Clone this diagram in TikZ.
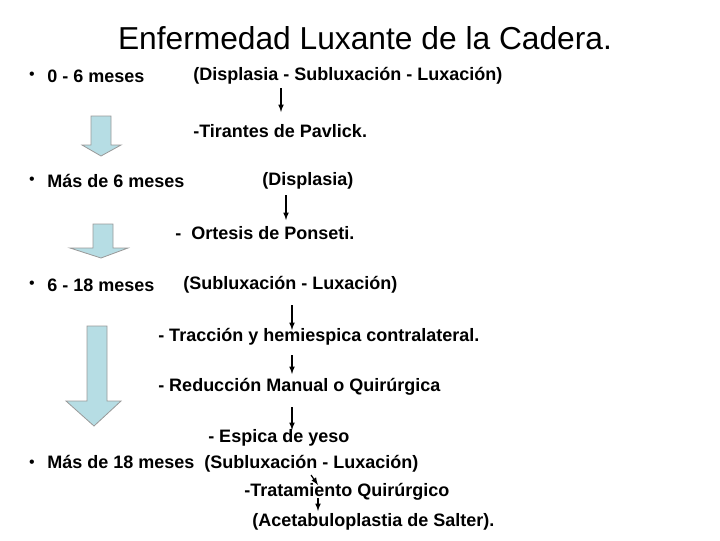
\documentclass[tikz,border=0pt]{standalone}
\usepackage{fontspec}
\setmainfont{Liberation Sans}
\definecolor{arrfill}{RGB}{182,221,228}
\begin{document}
\begin{tikzpicture}[x=0.75pt,y=-0.75pt,
  txt/.style={anchor=west,inner sep=0pt,font=\bfseries\fontsize{13.5}{15}\selectfont},
  bul/.style={inner sep=0pt,font=\fontsize{12}{14}\selectfont},
  thin/.style={-latex,line width=0.9pt},
  big/.style={draw=gray!80,fill=arrfill,line width=0.6pt}]
\useasboundingbox (0,0) rectangle (720,540);
\node[inner sep=0pt,font=\fontsize{23.8}{27}\selectfont] (title) at (365,38) {Enfermedad Luxante de la Cadera.};
\foreach \y in {76,181,285,464} \node[bul] at (32,\y) {•};
\node[txt] (a1) at (47,76) {0 - 6 meses};
\node[txt] (a2) at (193,76) {(Displasia - Subluxación - Luxación)};
\node[txt] (a3) at (193,131) {-Tirantes de Pavlick.};
\node[txt] (b1) at (47,181) {Más de 6 meses};
\node[txt] (b2) at (262,181) {(Displasia)};
\node[txt] (b3) at (175,233) {-\ \ Ortesis de Ponseti.};
\node[txt] (c1) at (47,285) {6 - 18 meses};
\node[txt] (c2) at (183,285) {(Subluxación - Luxación)};
\node[txt] (c3) at (158,337) {- Tracción y hemiespica contralateral.};
\node[txt] (c4) at (158,387) {- Reducción Manual o Quirúrgica};
\node[txt] (c5) at (208,438) {- Espica de yeso};
\node[txt] (d1) at (47,464) {Más de 18 meses\ \ (Subluxación - Luxación)};
\node[txt] (d2) at (244,492) {-Tratamiento Quirúrgico};
\node[txt] (d3) at (252,522) {(Acetabuloplastia de Salter).};
\coordinate (p1) at (281,88); \coordinate (q1) at (281,112);
\coordinate (p2) at (286,195); \coordinate (q2) at (286,220);
\coordinate (p3) at (292,305); \coordinate (q3) at (292,330);
\coordinate (p4) at (292,355); \coordinate (q4) at (292,374);
\coordinate (p5) at (292,407); \coordinate (q5) at (292,430);
\coordinate (p6) at (311,475); \coordinate (q6) at (318,485);
\coordinate (p7) at (318,498); \coordinate (q7) at (318,511);
\foreach \i in {1,...,7} \draw[thin] (p\i) -- (q\i);
\draw[big] (91,116) -- (111,116) -- (111,145) -- (121,145) -- (101,156) -- (82,145) -- (91,145) -- cycle;
\draw[big] (93,224) -- (113,224) -- (113,248) -- (128,248) -- (101,258) -- (70,248) -- (93,248) -- cycle;
\draw[big] (87,326) -- (107,326) -- (107,401) -- (121,401) -- (94,426) -- (66,401) -- (87,401) -- cycle;
\end{tikzpicture}
\end{document}
